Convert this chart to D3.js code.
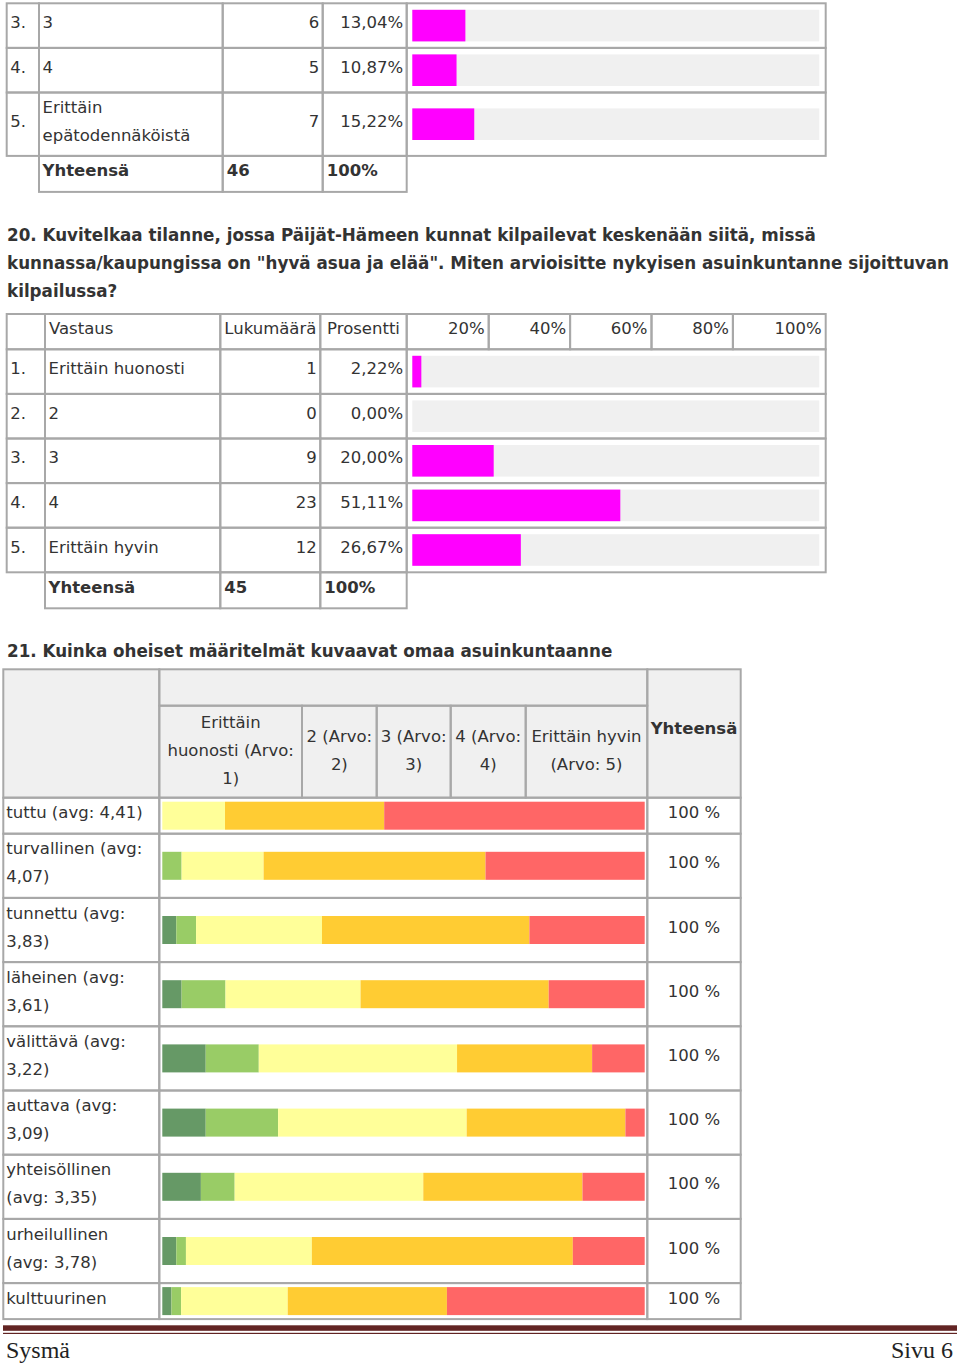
<!DOCTYPE html>
<html>
<head>
<meta charset="utf-8">
<script src="https://cdn.jsdelivr.net/npm/d3@7"></script>
<style>
  body { margin: 0; background: #fff; }
  svg { display: block; font-family: "DejaVu Sans", Verdana, sans-serif; }
  text { fill: #333; font-size: 16.5px; }
  .b { font-weight: bold; }
  .title { font-weight: bold; font-size: 16.75px; }
  .foot { font-family: "Liberation Serif", serif; font-size: 24px; fill: #222; }
</style>
</head>
<body>
<div id="root"></div>
<script>
// --- data: question 19 (end of its table) ---
const q19Nums = ['3.', '4.', '5.'];
const q19Answers = ['3', '4', 'Erittäin\nepätodennäköistä'];
const q19Counts = [6, 5, 7];
const q19Pcts = [13.04, 10.87, 15.22];
const q19Total = 46;

// --- data: question 20 ---
const q20Title = [
  '20. Kuvitelkaa tilanne, jossa Päijät-Hämeen kunnat kilpailevat keskenään siitä, missä',
  'kunnassa/kaupungissa on "hyvä asua ja elää". Miten arvioisitte nykyisen asuinkuntanne sijoittuvan',
  'kilpailussa?'
];
const q20Head = ['Vastaus', 'Lukumäärä', 'Prosentti'];
const q20Nums = ['1.', '2.', '3.', '4.', '5.'];
const q20Answers = ['Erittäin huonosti', '2', '3', '4', 'Erittäin hyvin'];
const q20Counts = [1, 0, 9, 23, 12];
const q20Pcts = [2.22, 0.00, 20.00, 51.11, 26.67];
const q20Total = 45;
const pctTicks = [20, 40, 60, 80, 100];

// --- data: question 21 ---
const q21Title = '21. Kuinka oheiset määritelmät kuvaavat omaa asuinkuntaanne';
const q21Options = ['Erittäin\nhuonosti (Arvo:\n1)', '2 (Arvo:\n2)', '3 (Arvo:\n3)', '4 (Arvo:\n4)', 'Erittäin hyvin\n(Arvo: 5)'];
const q21Items = [
  'tuttu (avg: 4,41)', 'turvallinen (avg:\n4,07)', 'tunnettu (avg:\n3,83)', 'läheinen (avg:\n3,61)',
  'välittävä (avg:\n3,22)', 'auttava (avg:\n3,09)', 'yhteisöllinen\n(avg: 3,35)', 'urheilullinen\n(avg: 3,78)',
  'kulttuurinen'
];
// share of answers (%) per option, one value per item
const arvo1 = [0, 0, 2.9, 4.0, 9.0, 9.0, 8.0, 2.9, 1.9];
const arvo2 = [0, 4.0, 4.1, 9.1, 11.0, 15.0, 7.0, 2.0, 2.0];
const arvo3 = [13.0, 17.0, 26.1, 28.0, 41.1, 39.1, 39.1, 26.1, 22.1];
const arvo4 = [33.0, 46.0, 43.0, 39.0, 28.0, 32.9, 33.0, 54.1, 33.0];
const arvo5 = [54.0, 33.0, 23.9, 19.9, 10.9, 4.0, 12.9, 14.9, 41.0];
const q21Totals = ['100 %', '100 %', '100 %', '100 %', '100 %', '100 %', '100 %', '100 %', '100 %'];

const footLeft = 'Sysmä';
const footRight = 'Sivu 6';

// --- drawing ---
const W = 960, H = 1367;
const LH = 28;
const grid = '#a8a8a8';
const headFill = '#f0f0f0';
const magenta = '#ff00ff';
const optColors = ['#669966', '#99cc66', '#ffff99', '#ffcc33', '#ff6666'];

const svg = d3.select('#root').append('svg').attr('width', W).attr('height', H);
const gFill = svg.append('g');
const gMarks = svg.append('g');
const gGrid = svg.append('g');
const gText = svg.append('g');

function cell(x0, x1, y0, y1, fill) {
  if (fill) {
    gFill.append('rect').attr('x', x0).attr('y', y0)
      .attr('width', x1 - x0).attr('height', y1 - y0).attr('fill', fill);
  }
  gGrid.append('rect').attr('x', x0).attr('y', y0)
    .attr('width', x1 - x0).attr('height', y1 - y0)
    .attr('fill', 'none').attr('stroke', grid).attr('stroke-width', 2);
}

function label(txt, x, yc, anchor, cls, dy) {
  const lines = String(txt).split('\n');
  const t = gText.append('text').attr('text-anchor', anchor || 'start');
  if (cls) t.attr('class', cls);
  lines.forEach((s, i) => {
    t.append('tspan').attr('x', x)
      .attr('y', yc + (dy == null ? 2.5 : dy) + (i - (lines.length - 1) / 2) * LH)
      .text(s);
  });
  return t;
}

const nLines = s => String(s).split('\n').length;
const fmtPct = v => v.toFixed(2).replace('.', ',') + '%';

// answer table with count, percent and bar columns
function answerTable(cfg) {
  const c = cfg.cols;
  const x = d3.scaleLinear().domain([0, 100]).range([c[4] + 5.6, c[5] - 6.4]);
  let y = cfg.top;

  if (cfg.head) {
    const hb = y + 35.3;
    cell(c[0], c[1], y, hb);
    cell(c[1], c[2], y, hb);
    cell(c[2], c[3], y, hb);
    cell(c[3], c[4], y, hb);
    const yc = (y + hb) / 2;
    label(cfg.head[0], c[1] + 4, yc);
    label(cfg.head[1], (c[2] + c[3]) / 2, yc, 'middle');
    label(cfg.head[2], (c[3] + c[4]) / 2, yc, 'middle');
    let left = c[4];
    cfg.ticks.forEach((t, i) => {
      const right = i === cfg.ticks.length - 1 ? c[5] : x(t) - 5;
      cell(left, right, y, hb);
      label(t + '%', right - 4, yc, 'end');
      left = right;
    });
    y = hb;
  }

  cfg.answers.forEach((a, i) => {
    const h = Math.max(44.6, nLines(a) * LH + 7.4);
    const y1 = y + h, yc = (y + y1) / 2;
    cell(c[0], c[1], y, y1);
    cell(c[1], c[2], y, y1);
    cell(c[2], c[3], y, y1);
    cell(c[3], c[4], y, y1);
    cell(c[4], c[5], y, y1);
    label(cfg.nums[i], c[0] + 3.5, yc);
    label(a, c[1] + 3.5, yc);
    label(cfg.counts[i], c[3] - 3.5, yc, 'end');
    label(fmtPct(cfg.pcts[i]), c[4] - 3.5, yc, 'end');
    gMarks.append('rect').attr('x', x(0)).attr('y', yc - 15.8)
      .attr('width', x(100) - x(0)).attr('height', 31.6).attr('fill', headFill);
    gMarks.append('rect').attr('x', x(0)).attr('y', yc - 15.8)
      .attr('width', x(cfg.pcts[i]) - x(0)).attr('height', 31.6).attr('fill', magenta);
    y = y1;
  });

  const y1 = y + 36, yc = (y + y1) / 2;
  cell(c[1], c[2], y, y1);
  cell(c[2], c[3], y, y1);
  cell(c[3], c[4], y, y1);
  label('Yhteensä', c[1] + 3.5, yc, 'start', 'b');
  label(cfg.total, c[2] + 4, yc, 'start', 'b');
  label('100%', c[3] + 4, yc, 'start', 'b');
}

answerTable({
  top: 3.3, cols: [6.7, 39, 222.7, 322.7, 406.7, 825.7],
  nums: q19Nums, answers: q19Answers, counts: q19Counts, pcts: q19Pcts, total: q19Total
});

q20Title.forEach((s, i) => {
  gText.append('text').attr('class', 'title').attr('x', 7).attr('y', 241 + i * LH).text(s);
});

answerTable({
  top: 314, cols: [6.7, 45, 220.3, 320.3, 406.7, 825.7],
  head: q20Head, ticks: pctTicks,
  nums: q20Nums, answers: q20Answers, counts: q20Counts, pcts: q20Pcts, total: q20Total
});

// question 21: matrix with stacked bars
gText.append('text').attr('class', 'title').attr('x', 7).attr('y', 657).text(q21Title);

const mc = [3.3, 159.3, 302, 376.7, 450.7, 525.7, 647.3, 740.7];
const mTop = 669.3, mSub = 705.7, mHead = 797.7;
cell(mc[0], mc[1], mTop, mHead, headFill);
cell(mc[1], mc[6], mTop, mSub, headFill);
q21Options.forEach((o, i) => {
  cell(mc[i + 1], mc[i + 2], mSub, mHead, headFill);
  label(o, (mc[i + 1] + mc[i + 2]) / 2, (mSub + mHead) / 2, 'middle', null, 4);
});
cell(mc[6], mc[7], mTop, mHead, headFill);
label('Yhteensä', (mc[6] + mc[7]) / 2, (mTop + mHead) / 2, 'middle', 'b', 0.5);

const keys = ['a1', 'a2', 'a3', 'a4', 'a5'];
const rows = q21Items.map((name, i) => ({
  name, a1: arvo1[i], a2: arvo2[i], a3: arvo3[i], a4: arvo4[i], a5: arvo5[i], total: q21Totals[i]
}));
const series = d3.stack().keys(keys)(rows);
const xs = d3.scaleLinear().domain([0, 100]).range([mc[1] + 3, mc[6] - 2.6]);
const color = d3.scaleOrdinal().domain(keys).range(optColors);

let yy = mHead;
const rowMid = [];
rows.forEach(r => {
  const h = nLines(r.name) * 28.2 + 7.8;
  cell(mc[0], mc[1], yy, yy + h);
  cell(mc[1], mc[6], yy, yy + h);
  cell(mc[6], mc[7], yy, yy + h);
  const yc = yy + h / 2;
  rowMid.push(yc);
  label(r.name, mc[0] + 3, yc);
  label(r.total, (mc[6] + mc[7]) / 2, yc, 'middle');
  yy += h;
});

gMarks.selectAll('g.series').data(series).join('g')
  .attr('class', 'series')
  .attr('fill', d => color(d.key))
  .selectAll('rect').data(d => d).join('rect')
  .attr('x', d => xs(d[0]))
  .attr('width', d => xs(d[1]) - xs(d[0]))
  .attr('y', (d, i) => rowMid[i] - 14)
  .attr('height', 28);

// page footer
svg.append('rect').attr('x', 3).attr('y', 1325.3).attr('width', 954).attr('height', 5.5).attr('fill', '#622423');
svg.append('rect').attr('x', 3).attr('y', 1332.8).attr('width', 954).attr('height', 1.2).attr('fill', '#622423');
svg.append('text').attr('class', 'foot').attr('x', 6).attr('y', 1358).text(footLeft);
svg.append('text').attr('class', 'foot').attr('x', 953).attr('y', 1358).attr('text-anchor', 'end').text(footRight);
</script>
</body>
</html>
